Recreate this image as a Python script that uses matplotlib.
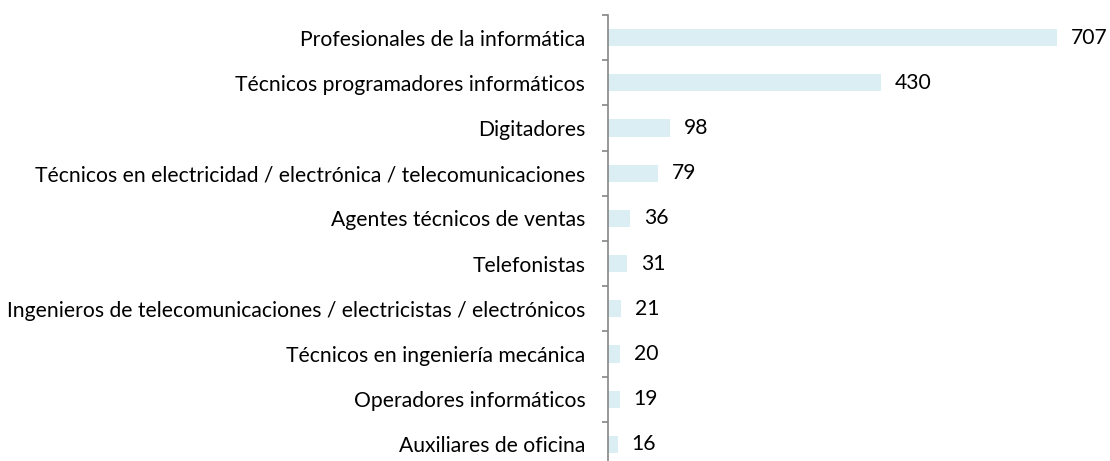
import matplotlib
matplotlib.use("Agg")
import matplotlib.pyplot as plt
import numpy as np

categories = [
    "Profesionales de la informática",
    "Técnicos programadores informáticos",
    "Digitadores",
    "Técnicos en electricidad / electrónica / telecomunicaciones",
    "Agentes técnicos de ventas",
    "Telefonistas",
    "Ingenieros de telecomunicaciones / electricistas / electrónicos",
    "Técnicos en ingeniería mecánica",
    "Operadores informáticos",
    "Auxiliares de oficina",
]
values = [707, 430, 98, 79, 36, 31, 21, 20, 19, 16]

plt.rcParams['font.family'] = ['Lato', 'DejaVu Sans']

fig = plt.figure(figsize=(11.10, 4.61), dpi=100)
ax = fig.add_axes([0.5473, -0.013, 0.4527, 0.9805])

n = len(categories)
y = np.arange(n)
ax.barh(y, values, height=0.38, color="#DAEEF3", edgecolor="none")
ax.set_ylim(n - 0.5, -0.5)
ax.set_xlim(0, 791)

for yi, v in zip(y, values):
    ax.annotate(str(v), xy=(v, yi), xytext=(10, 0), textcoords="offset points",
                va="center", ha="left", fontsize=15.2, color="#000000")

ax.set_yticks(y)
ax.set_yticklabels(categories, fontsize=15.2)
ax.tick_params(axis="y", which="major", length=0, pad=16)
ax.set_yticks(np.arange(-0.5, n, 1.0), minor=True)
ax.tick_params(axis="y", which="minor", length=4.3, color="#868686", width=1.2)
ax.set_xticks([])

for s in ["top", "right", "bottom"]:
    ax.spines[s].set_visible(False)
ax.spines["left"].set_color("#868686")
ax.spines["left"].set_linewidth(1.2)

fig.savefig("out.png", dpi=100)
